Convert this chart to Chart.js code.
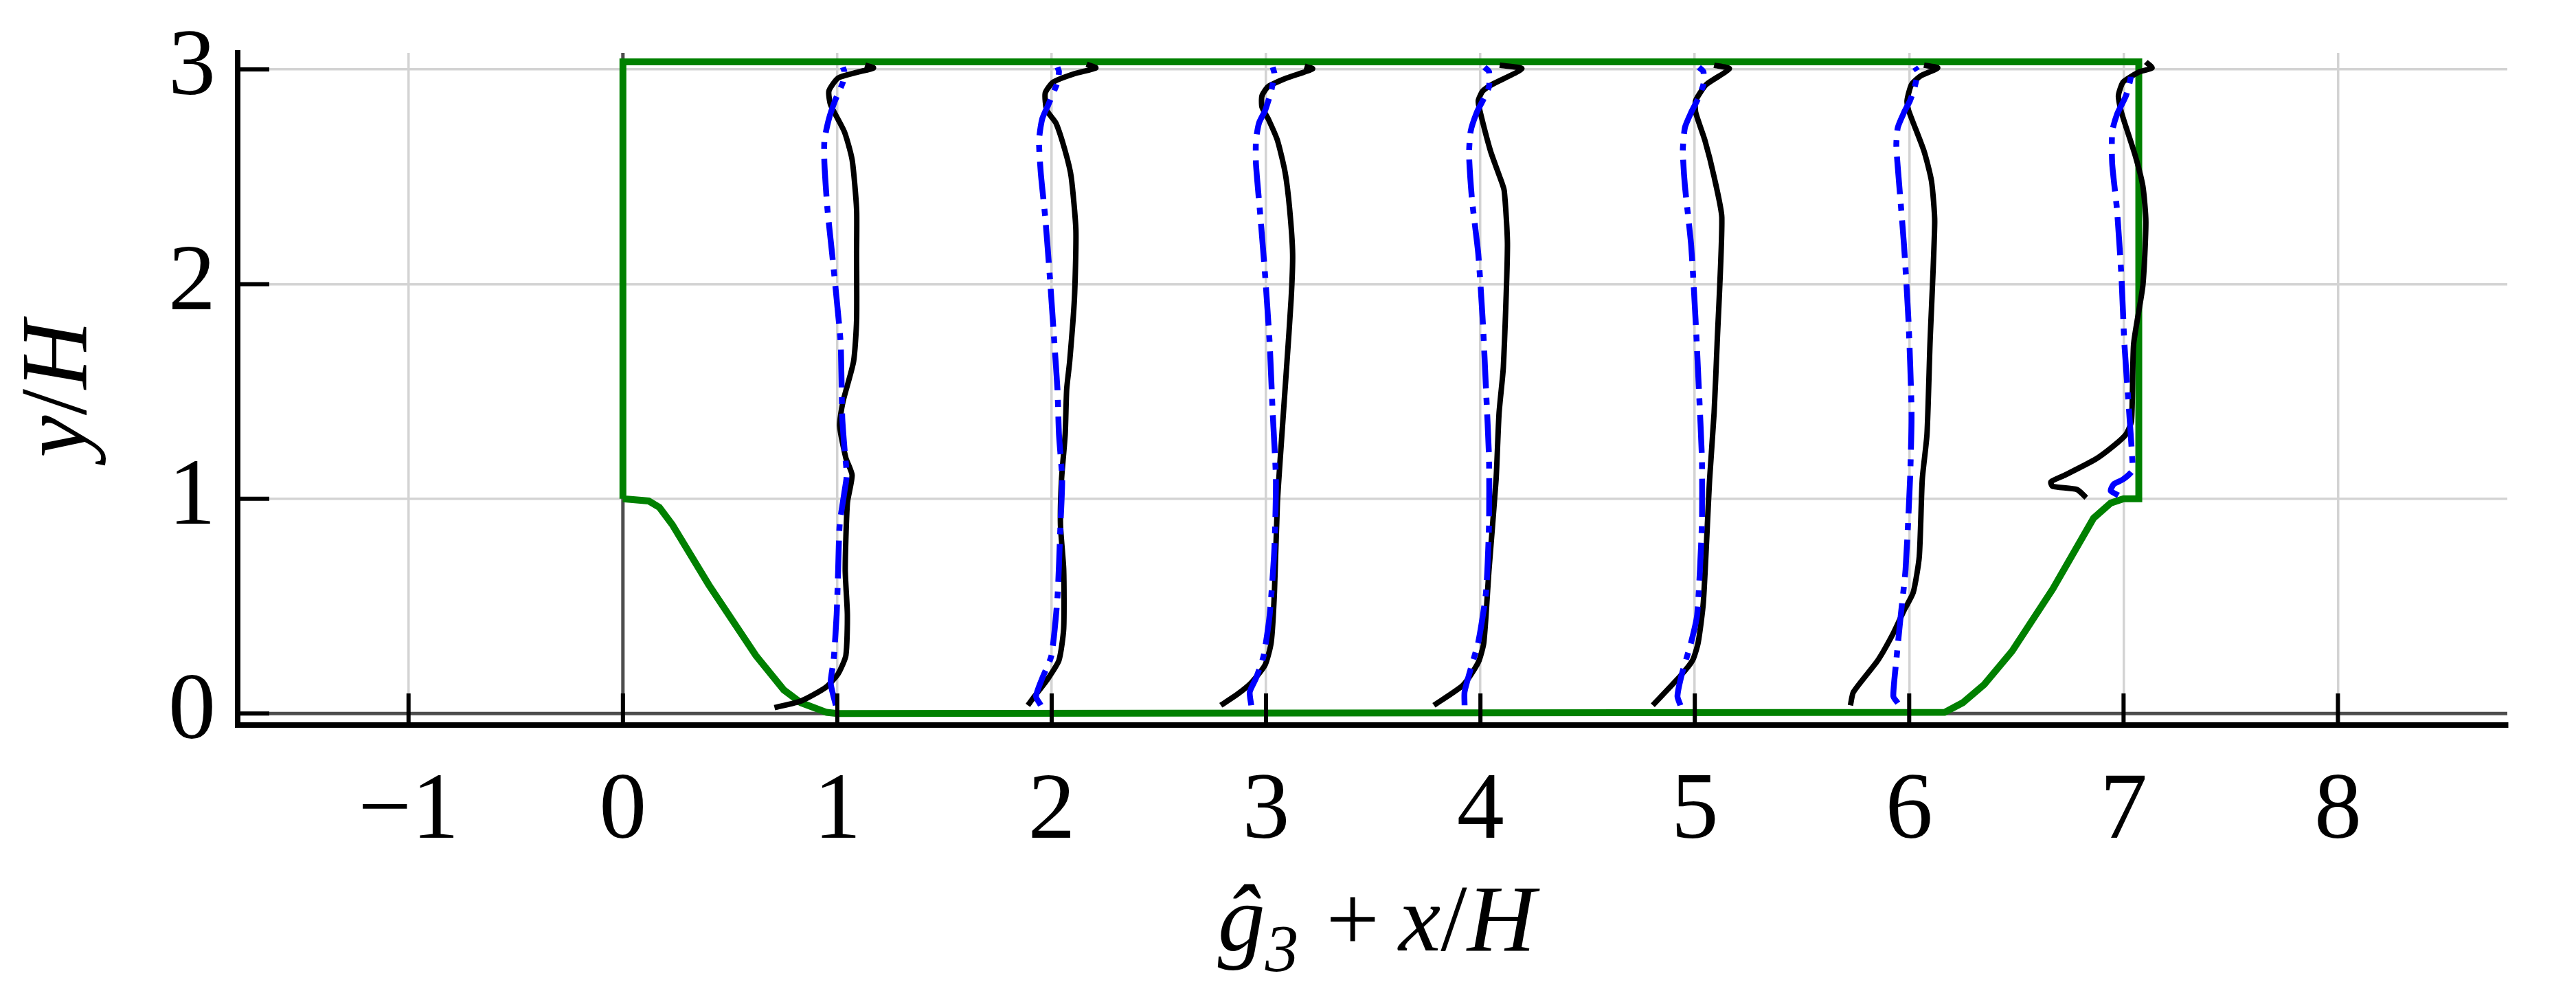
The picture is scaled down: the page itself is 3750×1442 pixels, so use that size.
<!DOCTYPE html>
<html>
<head>
<meta charset="utf-8">
<script src="https://cdn.jsdelivr.net/npm/chart.js@4/dist/chart.umd.min.js"></script>
<style>
  html, body { margin: 0; padding: 0; background: #fff; }
  canvas { display: block; }
</style>
</head>
<body>
<canvas id="chart" width="3750" height="1442"></canvas>
<script>
// ---- axes ----
const xMin = -1.797, xMax = 8.79;
const yMin = -0.054, yMax = 3.077;
const xTicks = [-1, 0, 1, 2, 3, 4, 5, 6, 7, 8];
const yTicks = [0, 1, 2, 3];

// profile stations x/H
const stations = [1, 2, 3, 4, 5, 6, 7];

// ---- walls (hill + top), x/H and y/H ----
const wallX = [0, 0, 7.071, 7.071, 7.0, 6.94, 6.86, 6.67, 6.48, 6.35, 6.25, 6.165, 1.0, 0.95, 0.83, 0.75, 0.62, 0.40, 0.23, 0.17, 0.12, 0];
const wallY = [1.0, 3.035, 3.035, 1.0, 1.0, 0.98, 0.91, 0.58, 0.29, 0.135, 0.05, 0.005, 0.0, 0.005, 0.05, 0.11, 0.27, 0.60, 0.88, 0.96, 0.99, 1.0];

// ---- profiles: [g3, y/H] pairs, solid black ----
const black1 = [[-0.293,0.027],[-0.167,0.059],[-0.053,0.122],[0.004,0.185],[0.040,0.27],[0.047,0.46],[0.037,0.67],[0.047,0.98],[0.069,1.11],[0.040,1.19],[0.011,1.34],[0.026,1.45],[0.076,1.64],[0.090,1.83],[0.090,2.14],[0.090,2.35],[0.069,2.58],[0.033,2.71],[-0.031,2.835],[-0.039,2.90],[0.004,2.96],[0.090,2.986],[0.169,3.007],[0.13,3.02]];
const black2 = [[-0.111,0.038],[-0.080,0.08],[-0.023,0.154],[0.034,0.248],[0.056,0.395],[0.056,0.67],[0.041,0.88],[0.046,1.09],[0.063,1.30],[0.070,1.51],[0.084,1.64],[0.106,1.93],[0.113,2.25],[0.091,2.50],[0.063,2.62],[0.020,2.75],[-0.023,2.81],[-0.030,2.89],[0.006,2.94],[0.106,2.98],[0.206,3.007],[0.163,3.024]];
const black3 = [[-0.211,0.038],[-0.133,0.09],[-0.069,0.143],[-0.004,0.227],[0.024,0.332],[0.039,0.564],[0.053,0.984],[0.074,1.30],[0.096,1.615],[0.117,1.93],[0.124,2.14],[0.110,2.35],[0.089,2.52],[0.053,2.67],[0.010,2.77],[-0.019,2.825],[-0.019,2.877],[0.010,2.92],[0.096,2.96],[0.217,3.003],[0.18,3.015]];
const black4 = [[-0.217,0.038],[-0.081,0.132],[-0.010,0.238],[0.016,0.332],[0.040,0.67],[0.073,1.09],[0.087,1.40],[0.107,1.615],[0.126,2.18],[0.111,2.435],[0.090,2.50],[0.047,2.62],[-0.003,2.81],[-0.010,2.855],[0.011,2.90],[0.054,2.93],[0.193,3.003],[0.09,3.02]];
const black5 = [[-0.196,0.038],[-0.067,0.175],[-0.010,0.248],[0.016,0.332],[0.040,0.52],[0.069,1.09],[0.090,1.40],[0.104,1.72],[0.126,2.31],[0.090,2.50],[0.047,2.67],[0.004,2.80],[0.004,2.855],[0.054,2.93],[0.161,3.003],[0.09,3.02]];
const black6 = [[-0.274,0.038],[-0.260,0.10],[-0.146,0.248],[-0.074,0.374],[-0.024,0.48],[0.019,0.564],[0.047,0.73],[0.061,1.09],[0.083,1.30],[0.097,1.72],[0.119,2.29],[0.104,2.48],[0.069,2.62],[-0.003,2.81],[-0.010,2.855],[0.011,2.93],[0.054,2.97],[0.133,3.007],[0.069,3.02]];
const black7 = [[-0.174,1.005],[-0.217,1.043],[-0.331,1.058],[-0.339,1.079],[-0.274,1.11],[-0.131,1.184],[-0.046,1.247],[0.011,1.30],[0.037,1.363],[0.047,1.72],[0.090,1.994],[0.104,2.29],[0.090,2.456],[0.054,2.60],[-0.010,2.80],[-0.024,2.877],[-0.003,2.94],[0.040,2.97],[0.076,2.99],[0.133,3.007],[0.104,3.035]];

// ---- profiles: [g3, y/H] pairs, blue dash-dot ----
const blue1 = [[-0.007,0.038],[-0.031,0.143],[-0.017,0.248],[-0.003,0.46],[0.004,0.67],[0.011,0.88],[0.033,1.03],[0.044,1.11],[0.033,1.24],[0.023,1.38],[0.016,1.72],[-0.003,1.93],[-0.024,2.14],[-0.046,2.35],[-0.060,2.56],[-0.060,2.67],[-0.039,2.77],[-0.010,2.856],[0.026,2.94],[0.033,2.99],[0.026,3.01]];
const blue2 = [[-0.051,0.038],[-0.073,0.08],[-0.044,0.164],[-0.001,0.27],[0.027,0.54],[0.041,0.88],[0.049,1.09],[0.034,1.30],[0.027,1.51],[0.013,1.72],[-0.009,2.04],[-0.030,2.31],[-0.051,2.52],[-0.059,2.67],[-0.044,2.77],[-0.016,2.835],[0.027,2.94],[0.034,2.99],[0.027,3.01]];
const blue3 = [[-0.069,0.038],[-0.076,0.10],[-0.047,0.164],[-0.011,0.27],[0.017,0.46],[0.039,0.77],[0.046,1.09],[0.031,1.40],[0.017,1.72],[-0.004,2.036],[-0.026,2.31],[-0.047,2.56],[-0.047,2.67],[-0.033,2.75],[-0.004,2.81],[0.024,2.90],[0.039,2.98],[0.031,3.01]];
const blue4 = [[-0.074,0.038],[-0.074,0.10],[-0.046,0.206],[-0.010,0.332],[0.026,0.564],[0.040,0.88],[0.040,1.19],[0.026,1.51],[0.011,1.825],[-0.010,2.14],[-0.039,2.39],[-0.053,2.60],[-0.046,2.71],[-0.017,2.80],[0.011,2.855],[0.040,2.92],[0.040,2.99],[0.019,3.01]];
const blue5 = [[-0.067,0.038],[-0.081,0.08],[-0.060,0.185],[-0.017,0.332],[0.011,0.46],[0.033,0.88],[0.033,1.19],[0.019,1.51],[0.004,1.825],[-0.017,2.18],[-0.046,2.456],[-0.056,2.62],[-0.046,2.73],[-0.017,2.80],[0.011,2.855],[0.040,2.93],[0.040,2.99],[0.019,3.01]];
const blue6 = [[-0.053,0.048],[-0.074,0.08],[-0.060,0.248],[-0.039,0.46],[-0.017,0.67],[0.004,1.09],[0.011,1.40],[-0.003,1.825],[-0.024,2.18],[-0.046,2.456],[-0.060,2.645],[-0.053,2.73],[-0.024,2.80],[0.004,2.855],[0.026,2.92],[0.040,2.99],[0.026,3.01]];
const blue7 = [[-0.024,1.016],[-0.060,1.037],[-0.046,1.068],[-0.003,1.09],[0.040,1.13],[0.040,1.195],[0.026,1.405],[0.004,1.72],[-0.010,2.036],[-0.031,2.35],[-0.053,2.56],[-0.053,2.71],[-0.031,2.79],[0.011,2.877],[0.033,2.96],[0.033,3.0]];

const blackProfiles = [black1, black2, black3, black4, black5, black6, black7];
const blueProfiles = [blue1, blue2, blue3, blue4, blue5, blue6, blue7];

const SERIF = '"Liberation Serif", "Times New Roman", serif';
const tickFont = { family: SERIF, size: 138 };

function toPoints(prof, xs) {
  return prof.map(p => ({ x: xs + p[0], y: p[1] }));
}
function fmt(v) {
  return v < 0 ? '\u2212' + Math.abs(v) : String(v);
}

const datasets = [];
// first dataset is drawn on top
blueProfiles.forEach((prof, i) => datasets.push({
  data: toPoints(prof, stations[i]),
  showLine: true, borderColor: '#0000ff', borderWidth: 8.5,
  borderDash: [55, 14, 10, 14], tension: 0.2, pointRadius: 0
}));
blackProfiles.forEach((prof, i) => datasets.push({
  data: toPoints(prof, stations[i]),
  showLine: true, borderColor: '#000000', borderWidth: 8,
  tension: 0.2, pointRadius: 0
}));
datasets.push({
  data: wallX.map((x, i) => ({ x, y: wallY[i] })),
  showLine: true, borderColor: '#008000', borderWidth: 10,
  tension: 0, pointRadius: 0
});
// reference lines y=0 and x=0
datasets.push({
  data: [{ x: xMin, y: 0 }, { x: xMax, y: 0 }],
  showLine: true, borderColor: '#4d4d4d', borderWidth: 5, pointRadius: 0
});
datasets.push({
  data: [{ x: 0, y: yMin }, { x: 0, y: yMax }],
  showLine: true, borderColor: '#4d4d4d', borderWidth: 5, pointRadius: 0
});

// draw a row of text pieces with mixed styles
function drawParts(ctx, parts, cx, baseline) {
  let total = 0;
  parts.forEach(p => {
    ctx.font = `${p.style} ${p.size}px ${SERIF}`;
    p.w = ctx.measureText(p.t).width;
    total += p.w + (p.gap || 0);
  });
  let x = cx - total / 2;
  parts.forEach(p => {
    ctx.font = `${p.style} ${p.size}px ${SERIF}`;
    ctx.fillText(p.t, x, baseline + (p.dy || 0));
    x += p.w + (p.gap || 0);
  });
}

// inward ticks + axis titles
const frame = {
  id: 'frame',
  afterDraw(chart) {
    const { ctx, chartArea: a, scales: { x, y } } = chart;
    ctx.save();
    ctx.strokeStyle = '#000';
    ctx.lineWidth = 6;
    ctx.beginPath();
    xTicks.forEach(v => {
      const p = x.getPixelForValue(v);
      ctx.moveTo(p, a.bottom);
      ctx.lineTo(p, a.bottom - 46);
    });
    yTicks.forEach(v => {
      const p = y.getPixelForValue(v);
      ctx.moveTo(a.left, p);
      ctx.lineTo(a.left + 46, p);
    });
    ctx.stroke();

    ctx.fillStyle = '#000';
    ctx.textBaseline = 'alphabetic';
    ctx.textAlign = 'left';
    drawParts(ctx, [
      { t: '\u011D', style: 'italic', size: 138 },
      { t: '3', style: 'italic', size: 97, dy: 30, gap: 40 },
      { t: '+', style: 'normal', size: 138, gap: 28 },
      { t: 'x', style: 'italic', size: 138 },
      { t: '/', style: 'normal', size: 138 },
      { t: 'H', style: 'italic', size: 138 }
    ], (a.left + a.right) / 2 + 6, a.bottom + 328);

    ctx.translate(a.left - 221, (a.top + a.bottom) / 2);
    ctx.rotate(-Math.PI / 2);
    drawParts(ctx, [
      { t: 'y', style: 'italic', size: 138 },
      { t: '/', style: 'normal', size: 138 },
      { t: 'H', style: 'italic', size: 138 }
    ], 0, 0);
    ctx.restore();
  }
};

new Chart(document.getElementById('chart'), {
  type: 'scatter',
  data: { datasets },
  options: {
    responsive: false,
    animation: false,
    devicePixelRatio: 1,
    layout: { padding: { top: 77, right: 100, left: 0, bottom: 0 } },
    plugins: { legend: { display: false }, tooltip: { enabled: false } },
    elements: { point: { radius: 0 } },
    scales: {
      x: {
        type: 'linear', min: xMin, max: xMax,
        afterBuildTicks: s => { s.ticks = xTicks.map(v => ({ value: v })); },
        afterFit: s => { s.height = 387; s.paddingLeft = 0; s.paddingRight = 0; },
        grid: { color: '#d3d3d3', lineWidth: 3.5, drawTicks: false },
        border: { display: true, color: '#000', width: 8 },
        ticks: { font: tickFont, color: '#000', padding: 45, maxRotation: 0, autoSkip: false, callback: v => fmt(v) }
      },
      y: {
        type: 'linear', min: yMin, max: yMax,
        afterBuildTicks: s => { s.ticks = yTicks.map(v => ({ value: v })); },
        afterFit: s => { s.width = 346; s.paddingTop = 0; s.paddingBottom = 0; },
        grid: { color: '#d3d3d3', lineWidth: 3.5, drawTicks: false },
        border: { display: true, color: '#000', width: 8 },
        ticks: { font: tickFont, color: '#000', padding: 32, autoSkip: false, callback: v => fmt(v) }
      }
    }
  },
  plugins: [frame]
});
</script>
</body>
</html>
